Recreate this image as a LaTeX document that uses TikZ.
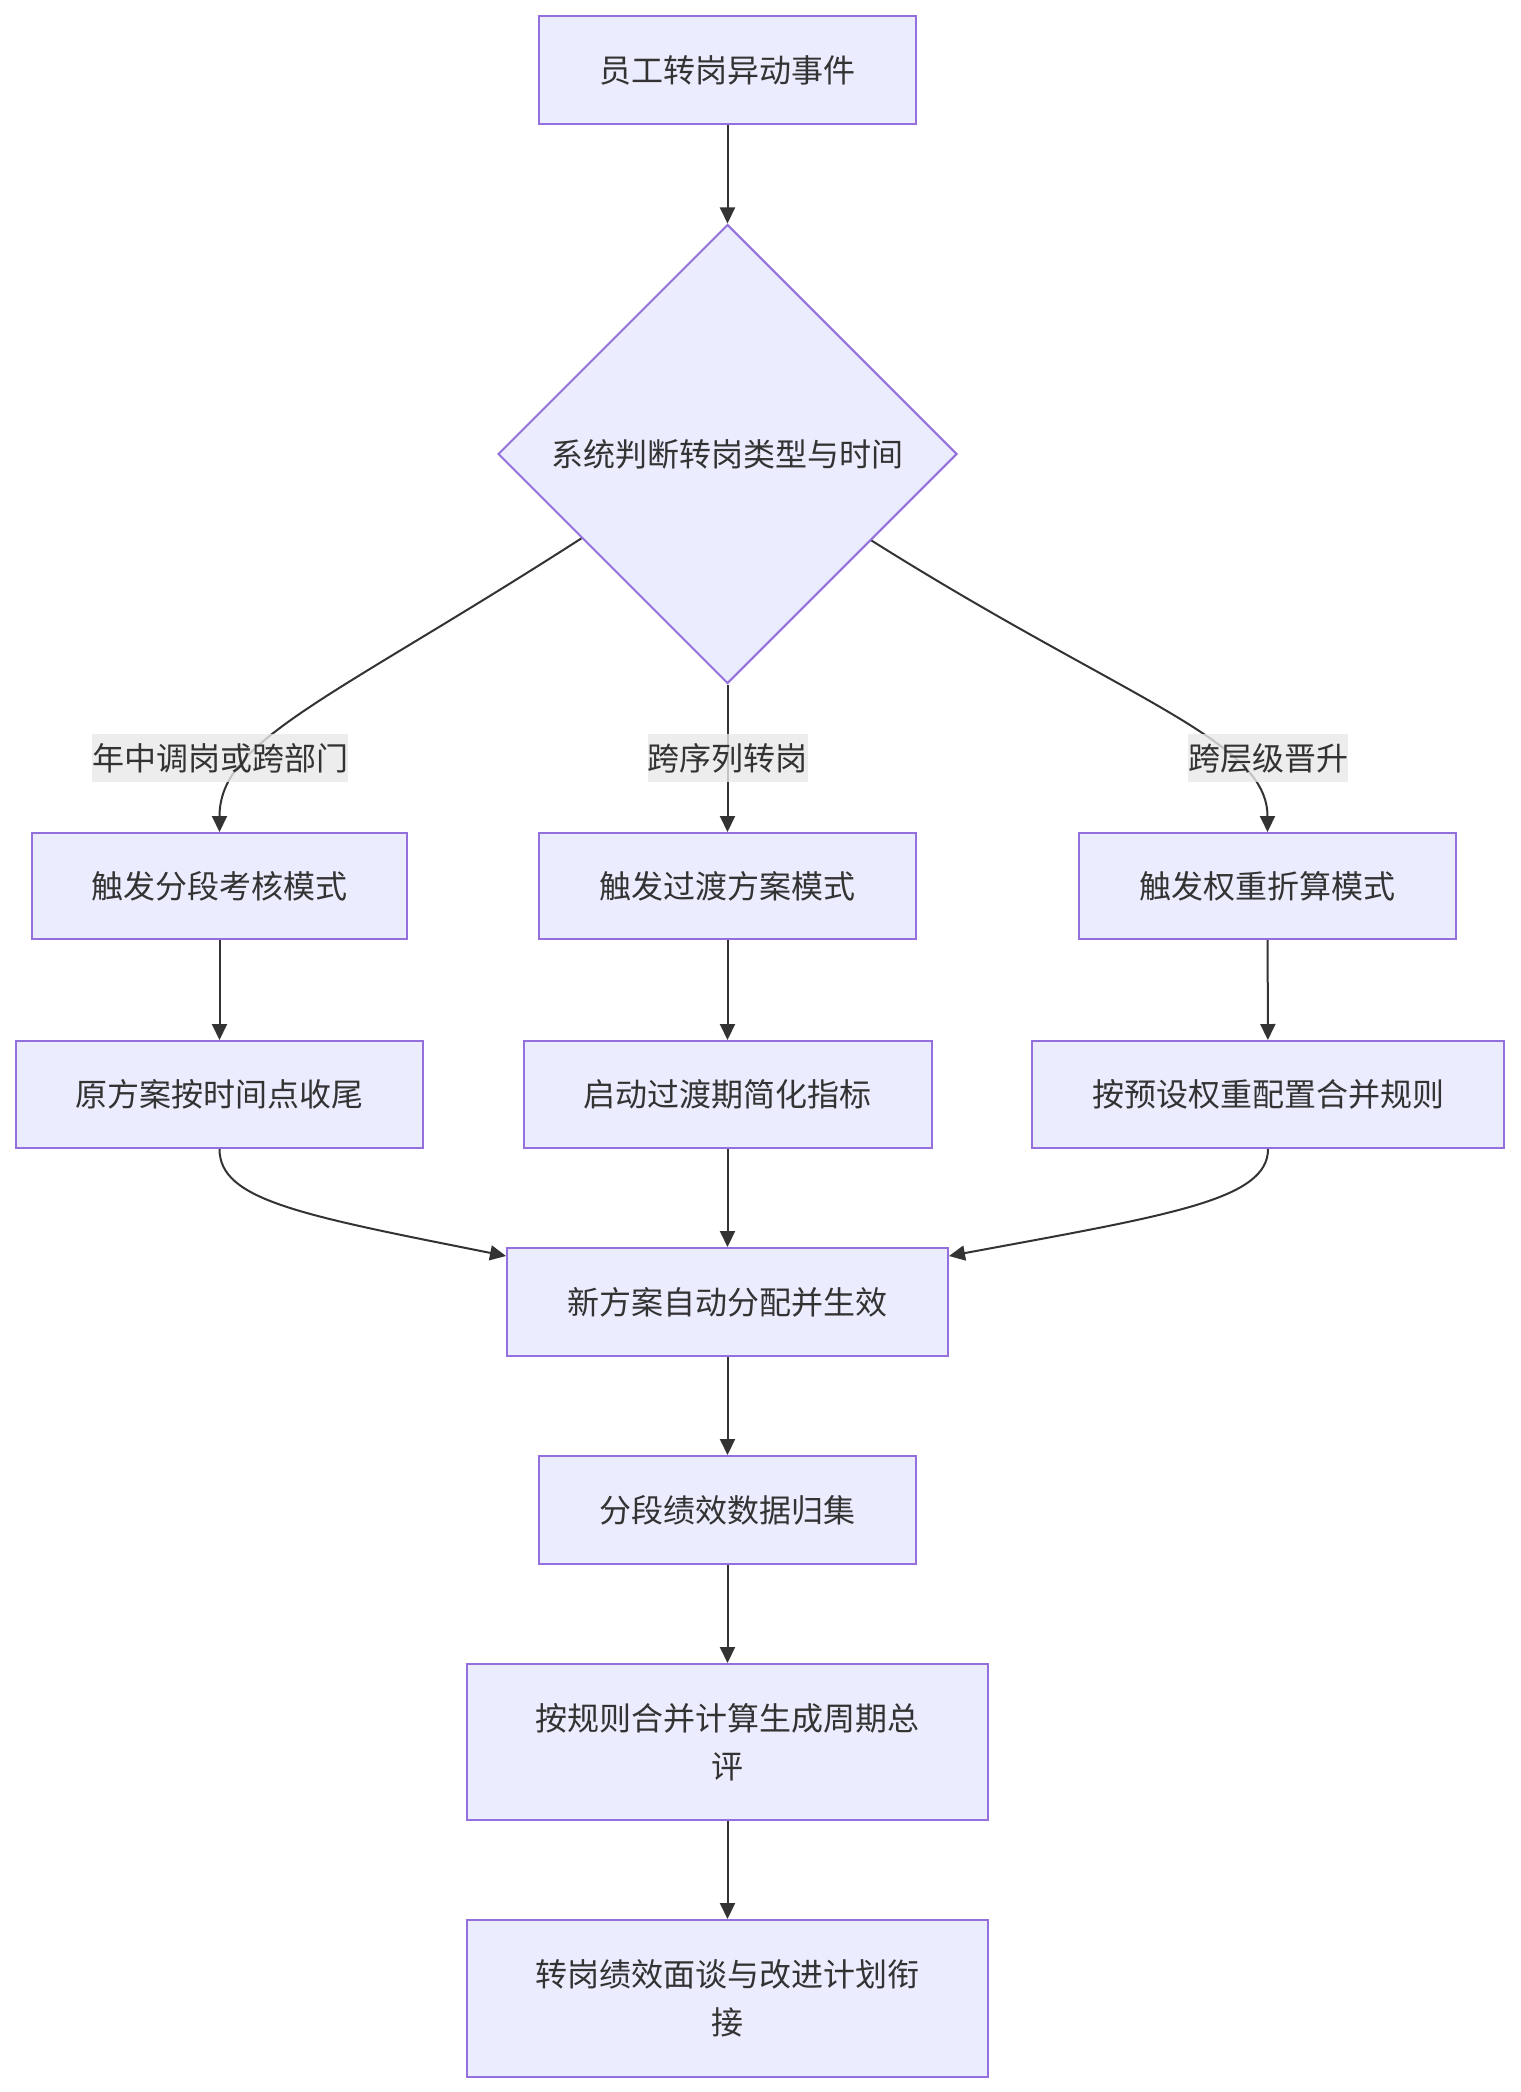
\documentclass[tikz,border=0pt]{standalone}
\usepackage{fontspec}
\setmainfont{Noto Sans CJK SC}
\usetikzlibrary{shapes.geometric,arrows.meta}
\definecolor{boxfill}{HTML}{ECECFF}
\definecolor{boxline}{HTML}{9370DB}
\definecolor{ink}{HTML}{333333}
\definecolor{lblbg}{HTML}{E8E8E8}
\tikzset{
  box/.style={draw=boxline, fill=boxfill, line width=2pt, rectangle, inner sep=0pt,
    text=ink, align=center, font=\fontsize{32}{48}\selectfont},
  dec/.style={draw=boxline, fill=boxfill, line width=2pt, diamond, aspect=1, inner sep=0pt,
    minimum width=459pt, minimum height=459pt, text=ink, font=\fontsize{32}{48}\selectfont},
  lbl/.style={fill=lblbg, fill opacity=0.8, text opacity=1, text=ink, inner xsep=0pt, inner ysep=0pt,
    minimum height=48pt, font=\fontsize{32}{48}\selectfont},
  arr/.style={draw=ink, line width=2pt, -{Triangle[length=16pt,width=15pt]}},
}
\begin{document}
\begin{tikzpicture}[x=1pt,y=-1pt]
\useasboundingbox (0,0) rectangle (1520,2092);
\node[box, minimum width=377pt, minimum height=108pt] (a) at (727.5,70) {员工转岗异动事件};
\node[dec] (d) at (727.5,454) {系统判断转岗类型与时间};
\node[box, minimum width=375pt, minimum height=106pt] (l1) at (219.5,886) {触发分段考核模式};
\node[box, minimum width=377pt, minimum height=106pt] (m1) at (727.5,886) {触发过渡方案模式};
\node[box, minimum width=377pt, minimum height=106pt] (r1) at (1267.5,886) {触发权重折算模式};
\node[box, minimum width=407pt, minimum height=107pt] (l2) at (219.5,1094.5) {原方案按时间点收尾};
\node[box, minimum width=408pt, minimum height=107pt] (m2) at (727.5,1094.5) {启动过渡期简化指标};
\node[box, minimum width=472pt, minimum height=107pt] (r2) at (1268,1094.5) {按预设权重配置合并规则};
\node[box, minimum width=441pt, minimum height=108pt] (n) at (727.5,1302) {新方案自动分配并生效};
\node[box, minimum width=377pt, minimum height=108pt] (s) at (727.5,1510) {分段绩效数据归集};
\node[box, minimum width=521pt, minimum height=156pt] (c) at (727.5,1742) {按规则合并计算生成周期总\\评};
\node[box, minimum width=521pt, minimum height=157pt] (f) at (727.5,1998.5) {转岗绩效面谈与改进计划衔\\接};

\coordinate (dl) at (d.210.6);
\coordinate (dr) at (d.329.6);

\draw[arr] (a) -- (d);
\draw[arr] (dl) .. controls (330,700) and (219.5,740) .. (l1.north);
\draw[arr] (d.south) -- (m1.north);
\draw[arr] (dr) .. controls (1125,700) and (1267.5,740) .. (r1.north);
\draw[arr] (l1) -- (l2);
\draw[arr] (m1) -- (m2);
\draw[arr] (r1) -- (r2);
\draw[arr] (l2.south) .. controls (219.5,1200) and (300,1215) .. (n.north west |- 0,1256);
\draw[arr] (m2) -- (n);
\draw[arr] (r2.south) .. controls (1268,1200) and (1170,1215) .. (n.north east |- 0,1256);
\draw[arr] (n) -- (s);
\draw[arr] (s) -- (c);
\draw[arr] (c) -- (f);

\node[lbl] (t1) at (220,758) {年中调岗或跨部门};
\node[lbl] (t2) at (727.5,758) {跨序列转岗};
\node[lbl] (t3) at (1268,758) {跨层级晋升};
\end{tikzpicture}
\end{document}
